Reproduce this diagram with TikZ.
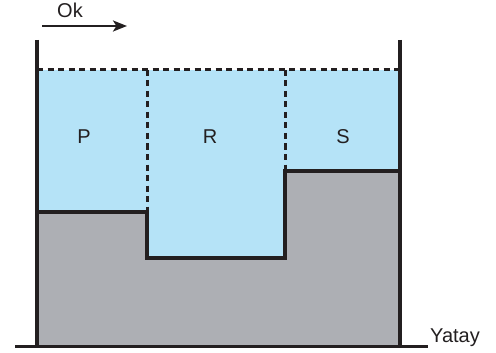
\documentclass[tikz,border=0pt]{standalone}
\usepackage{fontspec}
\setmainfont{Liberation Sans}
\usetikzlibrary{arrows.meta}
\definecolor{water}{HTML}{B5E3F7}
\definecolor{ground}{HTML}{ADAFB4}
\definecolor{ink}{HTML}{231F20}
\begin{document}
\begin{tikzpicture}[x=1pt,y=-1pt,
  wall/.style={draw=ink,line width=3.8pt},
  edge/.style={draw=ink,line width=3.6pt,line join=miter},
  surface/.style={draw=ink,line width=3pt,dash pattern=on 6pt off 4.5pt},
  lbl/.style={font=\fontsize{20}{24}\selectfont,text=ink,inner sep=0pt}]
\useasboundingbox (0,0) rectangle (496,353);
% water
\fill[water] (37,70) rectangle (400,258);
% ground
\fill[ground] (37,212) -- (147,212) -- (147,258) -- (285,258) -- (285,171) -- (400,171) -- (400,345) -- (37,345) -- cycle;
% profile
\draw[edge] (37,212) -- (147,212) -- (147,258) -- (285,258) -- (285,171) -- (400,171);
% surface and dividers
\draw[surface] (37,70) -- (400,70);
\draw[surface] (147,70) -- (147,212);
\draw[surface] (285,70) -- (285,171);
% walls
\draw[wall] (37,40) -- (37,346);
\draw[wall] (400,40) -- (400,346);
% horizontal base
\coordinate (b1) at (15,346.5);
\coordinate (b2) at (428,346.5);
\draw[ink,line width=3pt] (b1) -- (b2);
\node[lbl,anchor=base west] (yatay) at (430,342.5) {Yatay};
% labels
\node[lbl,anchor=base] (P) at (84,143) {P};
\node[lbl,anchor=base] (R) at (210,143) {R};
\node[lbl,anchor=base] (S) at (343,143) {S};
% flow arrow
\node[lbl,anchor=base] (ok) at (70,17.5) {Ok};
\coordinate (a1) at (42,26);
\coordinate (a2) at (127,26);
\draw[ink,line width=2.6pt,-{Stealth[length=14pt,width=11pt,inset=3.5pt]}] (a1) -- (a2);
\end{tikzpicture}
\end{document}
